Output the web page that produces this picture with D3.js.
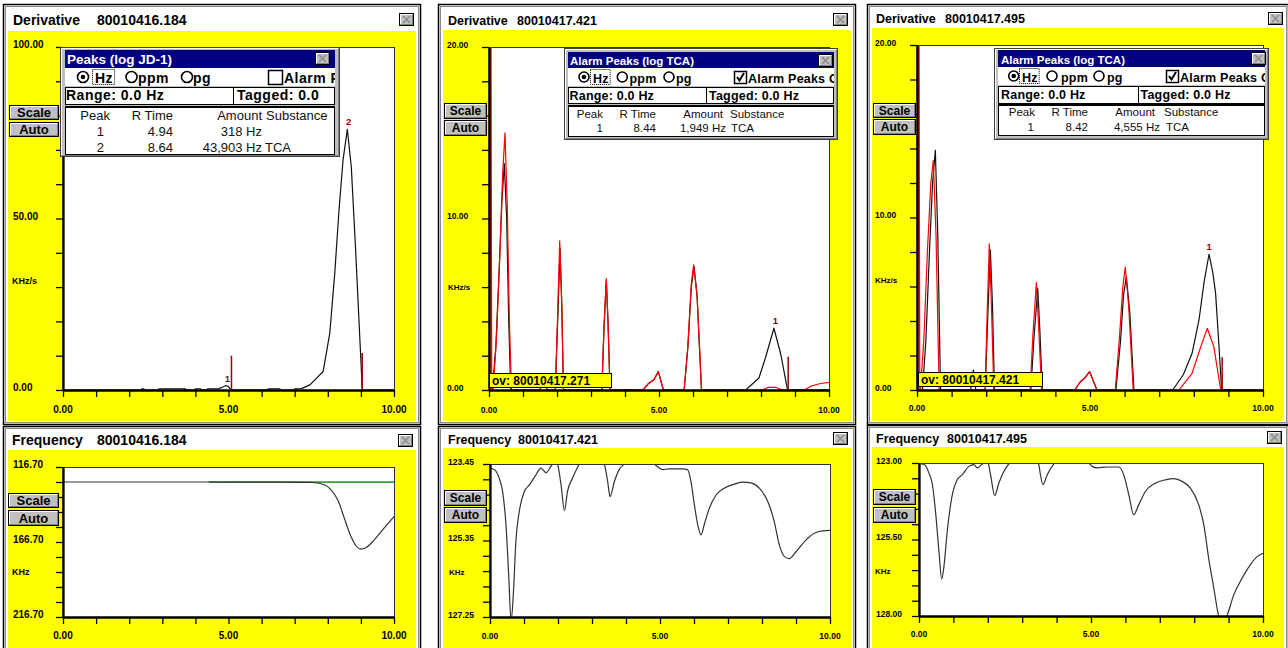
<!DOCTYPE html>
<html lang="en">
<head>
<meta charset="UTF-8">
<title>Derivative / Frequency traces</title>
<script src="https://d3js.org/d3.v7.min.js"></script>
<style>
  body { margin: 0; background: #fff; }
  text { font-family: Arial, "Liberation Sans", sans-serif; }
</style>
</head>
<body>
<svg id="chart" width="1288" height="648"></svg>
<script>
// ---------- data ----------
const runIds = ["80010416.184", "80010417.421", "80010417.495"];
const overlayIds = ["", "80010417.271", "80010417.421"];
const panelKinds = ["Derivative", "Frequency"];

const xTicks = [0, 1, 2, 3, 4, 5, 6, 7, 8, 9, 10];
const xLabels = [0, 5, 10];

const derivLabelsA = [0, 50, 100];
const derivLabelsBC = [0, 10, 20];
const freqLabelsA = [116.7, 166.7, 216.7];
const freqLabelsB = [123.45, 125.35, 127.25];
const freqLabelsC = [123.0, 125.5, 128.0];

// derivative traces [time, KHz/s]
const derivA = [[0,0],[2.35,0],[2.38,0.35],[2.44,0.35],[2.47,0],[2.88,0],[2.9,0.35],[3.7,0.35],[3.72,0],
  [3.98,0],[4.0,0.35],[4.16,0.35],[4.18,0],[4.35,0],[4.37,0.35],[4.7,0.4],[4.82,0.8],[4.92,1.3],[5.0,1.0],
  [5.06,0.2],[5.1,0],[6.17,0],[6.2,0.35],[6.55,0.35],[6.57,0],[6.97,0],[7.0,0.3],[7.2,0.4],[7.46,1.5],
  [7.86,5.4],[8.06,16.6],[8.21,34],[8.34,52.6],[8.46,67],[8.59,76],[8.71,65],[8.84,41],[8.96,16.6],
  [9.04,0.5],[9.06,0],[10,0]];

const derivBBlack = [[0,0],[0.1,0],[0.2,2.5],[0.3,7],[0.38,11],[0.45,13.2],[0.52,10],[0.58,4],[0.64,0],
  [1.5,0],[1.58,0.9],[1.66,0.8],[1.7,0],[1.95,0],[2.02,4],[2.09,8.25],[2.14,5],[2.19,0],
  [3.32,0],[3.38,3.5],[3.45,6.4],[3.5,4],[3.56,0],[4.53,0],[4.7,0.4],[4.85,0.6],[4.98,1.07],[5.13,0],
  [5.74,0],[5.85,2.5],[5.95,6],[6.03,7.2],[6.12,5.5],[6.25,0],[7.55,0],[7.94,0.7],[8.14,1.94],
  [8.38,3.6],[8.58,2.1],[8.78,0],[10,0]];
const derivBRed = [[0,0],[0.03,0],[0.05,30],[0.08,0],[0.12,0],[0.22,3],[0.32,8],[0.4,12.5],[0.47,15],[0.54,10.5],
  [0.6,4],[0.66,0],[1.5,0],[1.58,0.9],[1.66,0.8],[1.7,0],[1.95,0],[2.02,4.5],[2.08,8.7],[2.14,5],[2.19,0],
  [3.32,0],[3.38,3.6],[3.45,6.5],[3.5,4],[3.56,0],[4.53,0],[4.7,0.4],[4.85,0.6],[4.98,1.07],[5.13,0],
  [5.74,0],[5.85,2.6],[5.95,6.2],[6.02,7.3],[6.12,5.5],[6.25,0],[8.04,0],[8.2,0.15],[8.45,0.15],[8.62,0],
  [9.27,0],[9.5,0.25],[9.75,0.38],[9.95,0.43],[10,0.45]];

const derivCBlack = [[0,0],[0.16,0],[0.26,3],[0.36,8],[0.45,12],[0.53,13.9],[0.6,9],[0.68,0],
  [1.55,0],[1.63,1.16],[1.7,0],[1.97,0],[2.05,4.5],[2.12,8.12],[2.18,5],[2.24,0],
  [3.29,0],[3.38,3],[3.49,5.9],[3.55,3.5],[3.62,0],[4.56,0],[4.72,0.48],[4.85,0.7],[4.99,1.06],[5.2,0],
  [5.75,0],[5.88,2.8],[5.97,5.5],[6.05,6.58],[6.15,4.5],[6.27,0],[7.39,0],[7.7,0.9],[7.95,2.13],
  [8.15,4.06],[8.3,6.3],[8.44,7.87],[8.55,6.8],[8.63,5.6],[8.72,2.8],[8.8,0.1],[8.82,0],[10,0]];
const derivCRed = [[0,0],[0.03,0],[0.05,30],[0.08,0],[0.1,0],[0.2,3],[0.3,8],[0.4,12],[0.47,13.3],[0.55,9],[0.64,0],
  [1.97,0],[2.03,4.6],[2.09,8.47],[2.15,5],[2.22,0],[3.27,0],[3.35,3.2],[3.45,6.23],[3.52,3.5],[3.6,0],
  [4.56,0],[4.72,0.48],[4.85,0.7],[4.99,1.06],[5.2,0],[5.73,0],[5.85,3],[5.95,6],[6.02,7.12],[6.12,4.8],
  [6.25,0],[7.57,0],[7.95,0.97],[8.2,2.5],[8.39,3.58],[8.58,2.5],[8.77,0.1],[8.79,0],[10,0]];

// integration markers [time, height] and peak numbers [time, apex, label]
const markersA = [[5.09, 10], [9.04, 10.8]];
const markersB = [[8.8, 1.94]];
const markersC = [[8.82, 1.9]];
const peakLabelsA = [[4.97, 1.3, "1"], [8.63, 76, "2"]];
const peakLabelsB = [[8.42, 3.6, "1"]];
const peakLabelsC = [[8.44, 7.87, "1"]];

// frequency traces [time, KHz]
const freqABlack = [[0,126.7],[4.4,126.7],[7.5,126.9],[7.9,128.5],[8.1,131.9],[8.3,138.6],[8.5,150.9],
  [8.7,163.1],[8.85,169.2],[9.0,171.4],[9.15,170.5],[9.4,165.4],[9.7,157.5],[10,149.7]];
const freqAGreen = [[4.4,126.8],[10,126.8]];
const freqB = [[0,123.55],[0.13,123.59],[0.27,123.8],[0.37,124.13],[0.47,124.96],[0.55,126.21],[0.62,127.35],
  [0.69,126.63],[0.76,125.38],[0.86,124.63],[1.01,124.13],[1.16,123.97],[1.35,123.72],[1.5,123.55],
  [1.65,123.67],[1.79,123.51],[1.89,123.4],[1.94,123.35],[1.99,123.45],[2.09,123.97],[2.19,124.61],
  [2.28,124.13],[2.43,123.8],[2.63,123.45],[2.8,123.3],[3.2,123.3],[3.36,123.45],[3.46,123.88],[3.53,124.26],
  [3.66,123.88],[3.8,123.59],[3.95,123.45],[4.2,123.3],[4.6,123.3],[4.83,123.45],[4.98,123.55],[5.08,123.59],
  [5.27,123.57],[5.67,123.57],[5.81,123.59],[5.91,123.88],[6.01,124.46],[6.11,124.96],[6.21,125.21],
  [6.3,124.96],[6.45,124.55],[6.65,124.22],[6.89,124.05],[7.19,123.95],[7.43,123.9],[7.68,123.92],
  [7.92,124.05],[8.17,124.38],[8.36,124.88],[8.51,125.46],[8.66,125.75],[8.8,125.8],[9.0,125.63],
  [9.29,125.34],[9.54,125.17],[9.78,125.11],[10,125.1]];
const freqC = [[0,123.02],[0.15,123.05],[0.29,123.33],[0.39,123.71],[0.48,124.58],[0.58,125.89],[0.66,126.79],
  [0.73,126.33],[0.82,125.24],[0.95,124.15],[1.11,123.55],[1.26,123.38],[1.45,123.11],[1.6,123.05],
  [1.69,123.16],[1.84,123.03],[1.95,122.9],[2.0,122.95],[2.08,123.38],[2.2,124.06],[2.32,123.66],
  [2.47,123.27],[2.63,123.0],[2.9,122.8],[3.3,122.8],[3.47,123.0],[3.53,123.38],[3.6,123.71],[3.73,123.38],
  [3.92,123.03],[4.2,122.8],[4.7,122.8],[4.94,123.0],[5.03,123.11],[5.18,123.16],[5.47,123.13],[5.81,123.13],
  [5.95,123.38],[6.1,124.04],[6.24,124.69],[6.39,124.36],[6.58,123.93],[6.87,123.66],[7.16,123.55],
  [7.41,123.51],[7.65,123.6],[7.89,123.82],[8.13,124.36],[8.28,125.02],[8.42,126.11],[8.57,127.09],
  [8.71,128.0],[8.81,128.3],[8.95,128.0],[9.15,127.31],[9.39,126.77],[9.63,126.33],[9.83,126.06],[10,125.95]];

// peak tables
const peakHeaders = ["Peak", "R Time", "Amount", "Substance"];
const peaksA = [["1", "4.94", "318 Hz", ""], ["2", "8.64", "43,903 Hz", "TCA"]];
const peaksB = [["1", "8.44", "1,949 Hz", "TCA"]];
const peaksC = [["1", "8.42", "4,555 Hz", "TCA"]];
const popupTitles = ["Peaks (log JD-1)", "Alarm Peaks (log TCA)", "Alarm Peaks (log TCA)"];
const rangeText = ["Range: 0.0 Hz", "Range: 0.0 Hz", "Range: 0.0 Hz"];
const taggedText = ["Tagged: 0.0", "Tagged: 0.0 Hz", "Tagged: 0.0 Hz"];
const unitOptions = ["Hz", "ppm", "pg"];
const alarmOnly = [false, true, true];

// ---------- layout ----------
const winLayout = [
  {x0:3, x1:421, y0:4, y1:425, yy:31, tx:13, ix:97, tb:25, fs:14, close:[399,13], scale:[9,105,50,15], auto:[9,122,50,15], bfs:13},
  {x0:438, x1:856, y0:4, y1:425, yy:30, tx:448, ix:517, tb:25, fs:12.5, close:[833,13], scale:[444,103,43,16], auto:[444,120,43,16], bfs:12},
  {x0:867, x1:1289, y0:4, y1:425, yy:28, tx:876, ix:945, tb:23, fs:12.5, close:[1268,12], scale:[873,103,43,15], auto:[873,119,43,16], bfs:12},
  {x0:3, x1:421, y0:426, y1:660, yy:450, tx:12, ix:97, tb:445, fs:14, close:[398,434], scale:[8,493,51,15], auto:[8,510,51,16], bfs:13},
  {x0:438, x1:856, y0:426, y1:660, yy:448, tx:448, ix:518, tb:444, fs:12.5, close:[833,432], scale:[444,490,43,16], auto:[444,507,43,16], bfs:12},
  {x0:867, x1:1289, y0:425, y1:660, yy:447, tx:876, ix:947, tb:443, fs:12.5, close:[1267,431], scale:[873,489,43,16], auto:[873,507,43,16], bfs:12}
];

const plots = [
  {x0:63, x1:394, top:47, bottom:390, domain:[0,100], labels:derivLabelsA, labelX:13, lfs:10, unit:"KHz/s", unitPos:[12,284], ufs:9, xLabelY:413,
   series:[{data:derivA, color:"#111"}], markers:markersA, peaks:peakLabelsA, peakColors:["#333","#8b0000"]},
  {x0:489, x1:829, top:47, bottom:390, domain:[0,20], labels:derivLabelsBC, labelX:447, lfs:8.5, unit:"KHz/s", unitPos:[448,290], ufs:8, xLabelY:413,
   series:[{data:derivBBlack, color:"#111"}, {data:derivBRed, color:"#ff0000"}], markers:markersB, peaks:peakLabelsB, peakColors:["#8b0000"],
   ov:[489,373,122,14]},
  {x0:917, x1:1263, top:45, bottom:390, domain:[0,20], labels:derivLabelsBC, labelX:875, lfs:8.5, unit:"KHz/s", unitPos:[875,283], ufs:8, xLabelY:411,
   series:[{data:derivCBlack, color:"#111"}, {data:derivCRed, color:"#ff0000"}], markers:markersC, peaks:peakLabelsC, peakColors:["#8b0000"],
   ov:[918,372,124,14]},
  {x0:63, x1:394, top:467, bottom:617, domain:[216.7,116.7], labels:freqLabelsA, labelX:13, lfs:10, unit:"KHz", unitPos:[12,575], ufs:9, xLabelY:639,
   series:[{data:freqAGreen, color:"#3c9c3c", width:1.6}, {data:freqABlack, color:"#333", smooth:true}]},
  {x0:490, x1:830, top:464, bottom:617, domain:[127.25,123.45], labels:freqLabelsB, labelX:448, lfs:8.5, unit:"KHz", unitPos:[449,575], ufs:8, xLabelY:639,
   series:[{data:freqB, color:"#333", smooth:true}]},
  {x0:919, x1:1263, top:463, bottom:616, domain:[128,123], labels:freqLabelsC, labelX:876, lfs:8.5, unit:"KHz", unitPos:[875,574], ufs:8, xLabelY:637,
   series:[{data:freqC, color:"#333", smooth:true}]}
];

const popLayout = [
  {x:60, y:47, w:280, h:110, pad:5, bar:[3,21], radio:[21,39], range:[40,57], table:[59,107], closeX:255,
   tfs:13.5, tx:7, tBase:17, rfs:14, ls:0.5, rBase:36, rr:5.5, rx:[23,71.5,127], lx:[35,78,133], cb:[208,14], cbt:224,
   split:173, rgx:[6,177], rgBase:53, tbfs:13, hBase:72.5, step:16, cols:[44,113,202,205], hcols:[50,113,202,206]},
  {x:564, y:48, w:274, h:92, pad:4, bar:[4,20], radio:[20,38], range:[39,55], table:[57,88], closeX:254,
   tfs:11.5, tx:6, tBase:17, rfs:12.5, ls:0.2, rBase:35, rr:5, rx:[20,58.3,105], lx:[29,65.5,112], cb:[170,12], cbt:184,
   split:142, rgx:[5.5,145], rgBase:52, tbfs:11.5, hBase:69.5, step:14.5, cols:[39,92,162,167], hcols:[39,92,159,166]},
  {x:994, y:48, w:275, h:92, pad:4, bar:[2,19], radio:[19,37], range:[38,55], table:[56,87], closeX:257,
   tfs:11.5, tx:7, tBase:16, rfs:12.5, ls:0.2, rBase:34, rr:5, rx:[19.7,58,105], lx:[28,67,113], cb:[172,12], cbt:186,
   split:144, rgx:[7,146.5], rgBase:51, tbfs:11.5, hBase:68, step:15, cols:[40,94,166,172], hcols:[41,94,161,170]}
];

const svg = d3.select("#chart");

function bevelBox(g, x, y, w, h) {
  g.append("rect").attr("x", x + 0.5).attr("y", y + 0.5).attr("width", w - 1).attr("height", h - 1)
    .attr("fill", "#c0c0c0").attr("stroke", "#000");
  g.append("path").attr("d", `M${x + 1.5},${y + h - 2}V${y + 1.5}H${x + w - 2}`)
    .attr("fill", "none").attr("stroke", "#fff");
  g.append("path").attr("d", `M${x + 1.5},${y + h - 1.5}H${x + w - 1.5}V${y + 1.5}`)
    .attr("fill", "none").attr("stroke", "#808080");
}

function closeBox(g, x, y) {
  bevelBox(g, x, y, 15, 13);
  g.append("path").attr("d", `M${x + 4},${y + 3}L${x + 11},${y + 10}M${x + 11},${y + 3}L${x + 4},${y + 10}`)
    .attr("stroke", "#8c8c8c").attr("stroke-width", 1.5);
}

function button(g, b, label, fs) {
  bevelBox(g, b[0], b[1], b[2], b[3]);
  g.append("text").attr("x", b[0] + b[2] / 2).attr("y", b[1] + b[3] / 2 + fs * 0.36)
    .attr("text-anchor", "middle").attr("font-size", fs).attr("font-weight", "bold").text(label);
}

// window frames, titles and yellow panes
winLayout.forEach((o, i) => {
  const g = svg.append("g");
  g.append("rect").attr("x", o.x0 + 0.5).attr("y", o.y0 + 0.5)
    .attr("width", o.x1 - o.x0 - 1).attr("height", o.y1 - o.y0 - 1)
    .attr("fill", "#fff").attr("stroke", "#000").attr("stroke-width", 1.5);
  g.append("rect").attr("x", o.x0 + 2.5).attr("y", o.y0 + 2.5)
    .attr("width", o.x1 - o.x0 - 5).attr("height", o.y1 - o.y0 - 5)
    .attr("fill", "none").attr("stroke", "#8a8a8a");
  g.append("rect").attr("x", o.x0 + 5).attr("y", o.yy)
    .attr("width", o.x1 - o.x0 - 10).attr("height", o.y1 - o.yy - 4)
    .attr("fill", "#ffff00");
  g.append("text").attr("x", o.tx).attr("y", o.tb).attr("font-size", o.fs).attr("font-weight", "bold")
    .text(panelKinds[Math.floor(i / 3)]);
  g.append("text").attr("x", o.ix).attr("y", o.tb).attr("font-size", o.fs).attr("font-weight", "bold")
    .text(runIds[i % 3]);
  closeBox(g, o.close[0], o.close[1]);
});

// plots
plots.forEach((p, i) => {
  const x = d3.scaleLinear().domain([0, 10]).range([p.x0, p.x1]);
  const y = d3.scaleLinear().domain(p.domain).range([p.bottom, p.top]);
  const g = svg.append("g");

  g.append("rect").attr("x", p.x0).attr("y", p.top + 0.5).attr("width", p.x1 - p.x0 + 0.5)
    .attr("height", p.bottom - p.top).attr("fill", "#fff").attr("stroke", "#333");

  const cid = "plotclip" + i;
  g.append("clipPath").attr("id", cid).append("rect")
    .attr("x", p.x0).attr("y", p.top).attr("width", p.x1 - p.x0).attr("height", p.bottom - p.top);
  const body = g.append("g").attr("clip-path", `url(#${cid})`);

  p.series.forEach(s => {
    const line = d3.line().x(d => x(d[0])).y(d => y(d[1]))
      .curve(s.smooth ? d3.curveMonotoneX : d3.curveLinear);
    body.append("path").datum(s.data).attr("d", line).attr("fill", "none")
      .attr("stroke", s.color).attr("stroke-width", s.width || 1.2).attr("stroke-linejoin", "round");
  });

  (p.markers || []).forEach(m => {
    body.append("line").attr("x1", x(m[0])).attr("x2", x(m[0]))
      .attr("y1", y(0)).attr("y2", y(m[1])).attr("stroke", "#a00000").attr("stroke-width", 1.5);
  });

  (p.peaks || []).forEach((pk, k) => {
    g.append("text").attr("x", x(pk[0])).attr("y", y(pk[1]) - 4).attr("text-anchor", "middle")
      .attr("font-size", 9.5).attr("font-weight", "bold")
      .attr("fill", p.peakColors[Math.min(k, p.peakColors.length - 1)]).text(pk[2]);
  });

  const yTicks = d3.range(11).map(k => p.domain[0] + (p.domain[1] - p.domain[0]) * k / 10);
  const ya = g.append("g").attr("transform", `translate(${p.x0},0)`)
    .call(d3.axisLeft(y).tickValues(yTicks).tickSize(7).tickSizeOuter(0).tickFormat(""));
  const xa = g.append("g").attr("transform", `translate(0,${p.bottom})`)
    .call(d3.axisBottom(x).tickValues(xTicks).tickSize(7).tickSizeOuter(0).tickFormat(""));
  [ya, xa].forEach(a => {
    a.select(".domain").attr("stroke-width", 2.3);
    a.selectAll(".tick line").attr("stroke-width", 1.3);
  });

  g.selectAll(null).data(p.labels).join("text")
    .attr("x", p.labelX).attr("y", d => y(d) - 2.4 + p.lfs * 0.36)
    .attr("font-size", p.lfs).attr("font-weight", "bold").text(d3.format(".2f"));
  g.selectAll(null).data(xLabels).join("text")
    .attr("x", d => x(d)).attr("y", p.xLabelY).attr("text-anchor", "middle")
    .attr("font-size", p.lfs).attr("font-weight", "bold").text(d3.format(".2f"));
  g.append("text").attr("x", p.unitPos[0]).attr("y", p.unitPos[1])
    .attr("font-size", p.ufs).attr("font-weight", "bold").text(p.unit);

  if (p.ov) {
    const [ox, oy, ow, oh] = p.ov;
    g.append("rect").attr("x", ox + 0.5).attr("y", oy + 0.5).attr("width", ow).attr("height", oh)
      .attr("fill", "#ffff00").attr("stroke", "#000");
    g.append("text").attr("x", ox + 3).attr("y", oy + oh - 2.5).attr("font-size", 12)
      .attr("font-weight", "bold").text("ov: " + overlayIds[i]);
  }
});

// Scale / Auto buttons on top of the axes
winLayout.forEach(o => {
  const g = svg.append("g");
  button(g, o.scale, "Scale", o.bfs);
  button(g, o.auto, "Auto", o.bfs);
});

// peak popups
const peakRows = [peaksA, peaksB, peaksC];
popLayout.forEach((p, i) => {
  const g = svg.append("g");
  const cid = "popclip" + i;
  g.append("clipPath").attr("id", cid).append("rect")
    .attr("x", p.x + p.pad).attr("y", p.y).attr("width", p.w - 2 * p.pad).attr("height", p.h);

  g.append("rect").attr("x", p.x + 0.5).attr("y", p.y + 0.5).attr("width", p.w - 1).attr("height", p.h - 1)
    .attr("fill", "#c0c0c0").attr("stroke", "#404040");
  g.append("path").attr("d", `M${p.x + 1.5},${p.y + p.h - 2}V${p.y + 1.5}H${p.x + p.w - 2}`)
    .attr("fill", "none").attr("stroke", "#fff");
  g.append("path").attr("d", `M${p.x + 2},${p.y + p.h - 1.5}H${p.x + p.w - 1.5}V${p.y + 2}`)
    .attr("fill", "none").attr("stroke", "#808080");

  const inner = p.w - 2 * p.pad;
  // title bar
  g.append("rect").attr("x", p.x + p.pad).attr("y", p.y + p.bar[0]).attr("width", inner)
    .attr("height", p.bar[1] - p.bar[0]).attr("fill", "#000080");
  g.append("text").attr("x", p.x + p.tx).attr("y", p.y + p.tBase).attr("fill", "#fff")
    .attr("font-size", p.tfs).attr("font-weight", "bold").text(popupTitles[i]);
  closeBox(g, p.x + p.closeX, p.y + p.bar[0] + 2);

  // unit radio row
  const c = g.append("g").attr("clip-path", `url(#${cid})`);
  c.append("rect").attr("x", p.x + p.pad).attr("y", p.y + p.radio[0]).attr("width", inner)
    .attr("height", p.radio[1] - p.radio[0]).attr("fill", "#fff");
  const cy = p.y + (p.radio[0] + p.radio[1]) / 2;
  unitOptions.forEach((u, k) => {
    c.append("circle").attr("cx", p.x + p.rx[k]).attr("cy", cy).attr("r", p.rr)
      .attr("fill", "#fff").attr("stroke", "#000").attr("stroke-width", 1.6);
    if (k === 0) c.append("circle").attr("cx", p.x + p.rx[k]).attr("cy", cy).attr("r", 2.3).attr("fill", "#000");
    const t = c.append("text").attr("x", p.x + p.lx[k]).attr("y", p.y + p.rBase)
      .attr("font-size", p.rfs).attr("font-weight", "bold").attr("letter-spacing", p.ls).text(u);
    if (k === 0) {
      const tw = t.node().getComputedTextLength();
      c.append("rect").attr("x", p.x + p.lx[k] - 2.5).attr("y", p.y + p.radio[0] + 1.5)
        .attr("width", tw + 4).attr("height", p.radio[1] - p.radio[0] - 3)
        .attr("fill", "none").attr("stroke", "#000").attr("stroke-dasharray", "1,1");
    }
  });
  const cbs = p.cb[1];
  c.append("rect").attr("x", p.x + p.cb[0] + 0.5).attr("y", cy - cbs / 2 + 0.5).attr("width", cbs).attr("height", cbs)
    .attr("fill", "#fff").attr("stroke", "#000").attr("stroke-width", 1.5);
  if (alarmOnly[i]) {
    const bx = p.x + p.cb[0];
    c.append("path").attr("d", `M${bx + 3},${cy}L${bx + 5.5},${cy + 3.5}L${bx + cbs - 2},${cy - 4}`)
      .attr("fill", "none").attr("stroke", "#000").attr("stroke-width", 2);
  }
  c.append("text").attr("x", p.x + p.cbt).attr("y", p.y + p.rBase).attr("font-size", p.rfs)
    .attr("font-weight", "bold").attr("letter-spacing", p.ls).text("Alarm Peaks Only");

  // range / tagged boxes
  const rh = p.range[1] - p.range[0];
  g.append("rect").attr("x", p.x + p.pad + 0.5).attr("y", p.y + p.range[0] + 0.5)
    .attr("width", p.split - p.pad).attr("height", rh).attr("fill", "#fff").attr("stroke", "#000");
  g.append("rect").attr("x", p.x + p.split + 0.5).attr("y", p.y + p.range[0] + 0.5)
    .attr("width", p.w - p.pad - p.split - 1).attr("height", rh).attr("fill", "#fff").attr("stroke", "#000");
  g.append("text").attr("x", p.x + p.rgx[0]).attr("y", p.y + p.rgBase).attr("font-size", p.rfs)
    .attr("font-weight", "bold").attr("letter-spacing", p.ls).text(rangeText[i]);
  g.append("text").attr("x", p.x + p.rgx[1]).attr("y", p.y + p.rgBase).attr("font-size", p.rfs)
    .attr("font-weight", "bold").attr("letter-spacing", p.ls).text(taggedText[i]);

  // peak table
  g.append("rect").attr("x", p.x + p.pad + 0.5).attr("y", p.y + p.table[0] + 0.5)
    .attr("width", inner - 1).attr("height", p.table[1] - p.table[0]).attr("fill", "#fff").attr("stroke", "#000");
  g.append("line").attr("x1", p.x + p.pad).attr("x2", p.x + p.w - p.pad)
    .attr("y1", p.y + p.table[0] + 1).attr("y2", p.y + p.table[0] + 1).attr("stroke", "#000").attr("stroke-width", 2);
  const anchors = ["end", "end", "end", "start"];
  peakHeaders.forEach((h, k) => {
    g.append("text").attr("x", p.x + p.hcols[k]).attr("y", p.y + p.hBase).attr("text-anchor", anchors[k])
      .attr("font-size", p.tbfs).attr("fill", "#111").text(h);
  });
  peakRows[i].forEach((r, j) => {
    r.forEach((v, k) => {
      g.append("text").attr("x", p.x + p.cols[k]).attr("y", p.y + p.hBase + p.step * (j + 1))
        .attr("text-anchor", anchors[k]).attr("font-size", p.tbfs).attr("fill", "#111").text(v);
    });
  });
});
</script>
</body>
</html>
